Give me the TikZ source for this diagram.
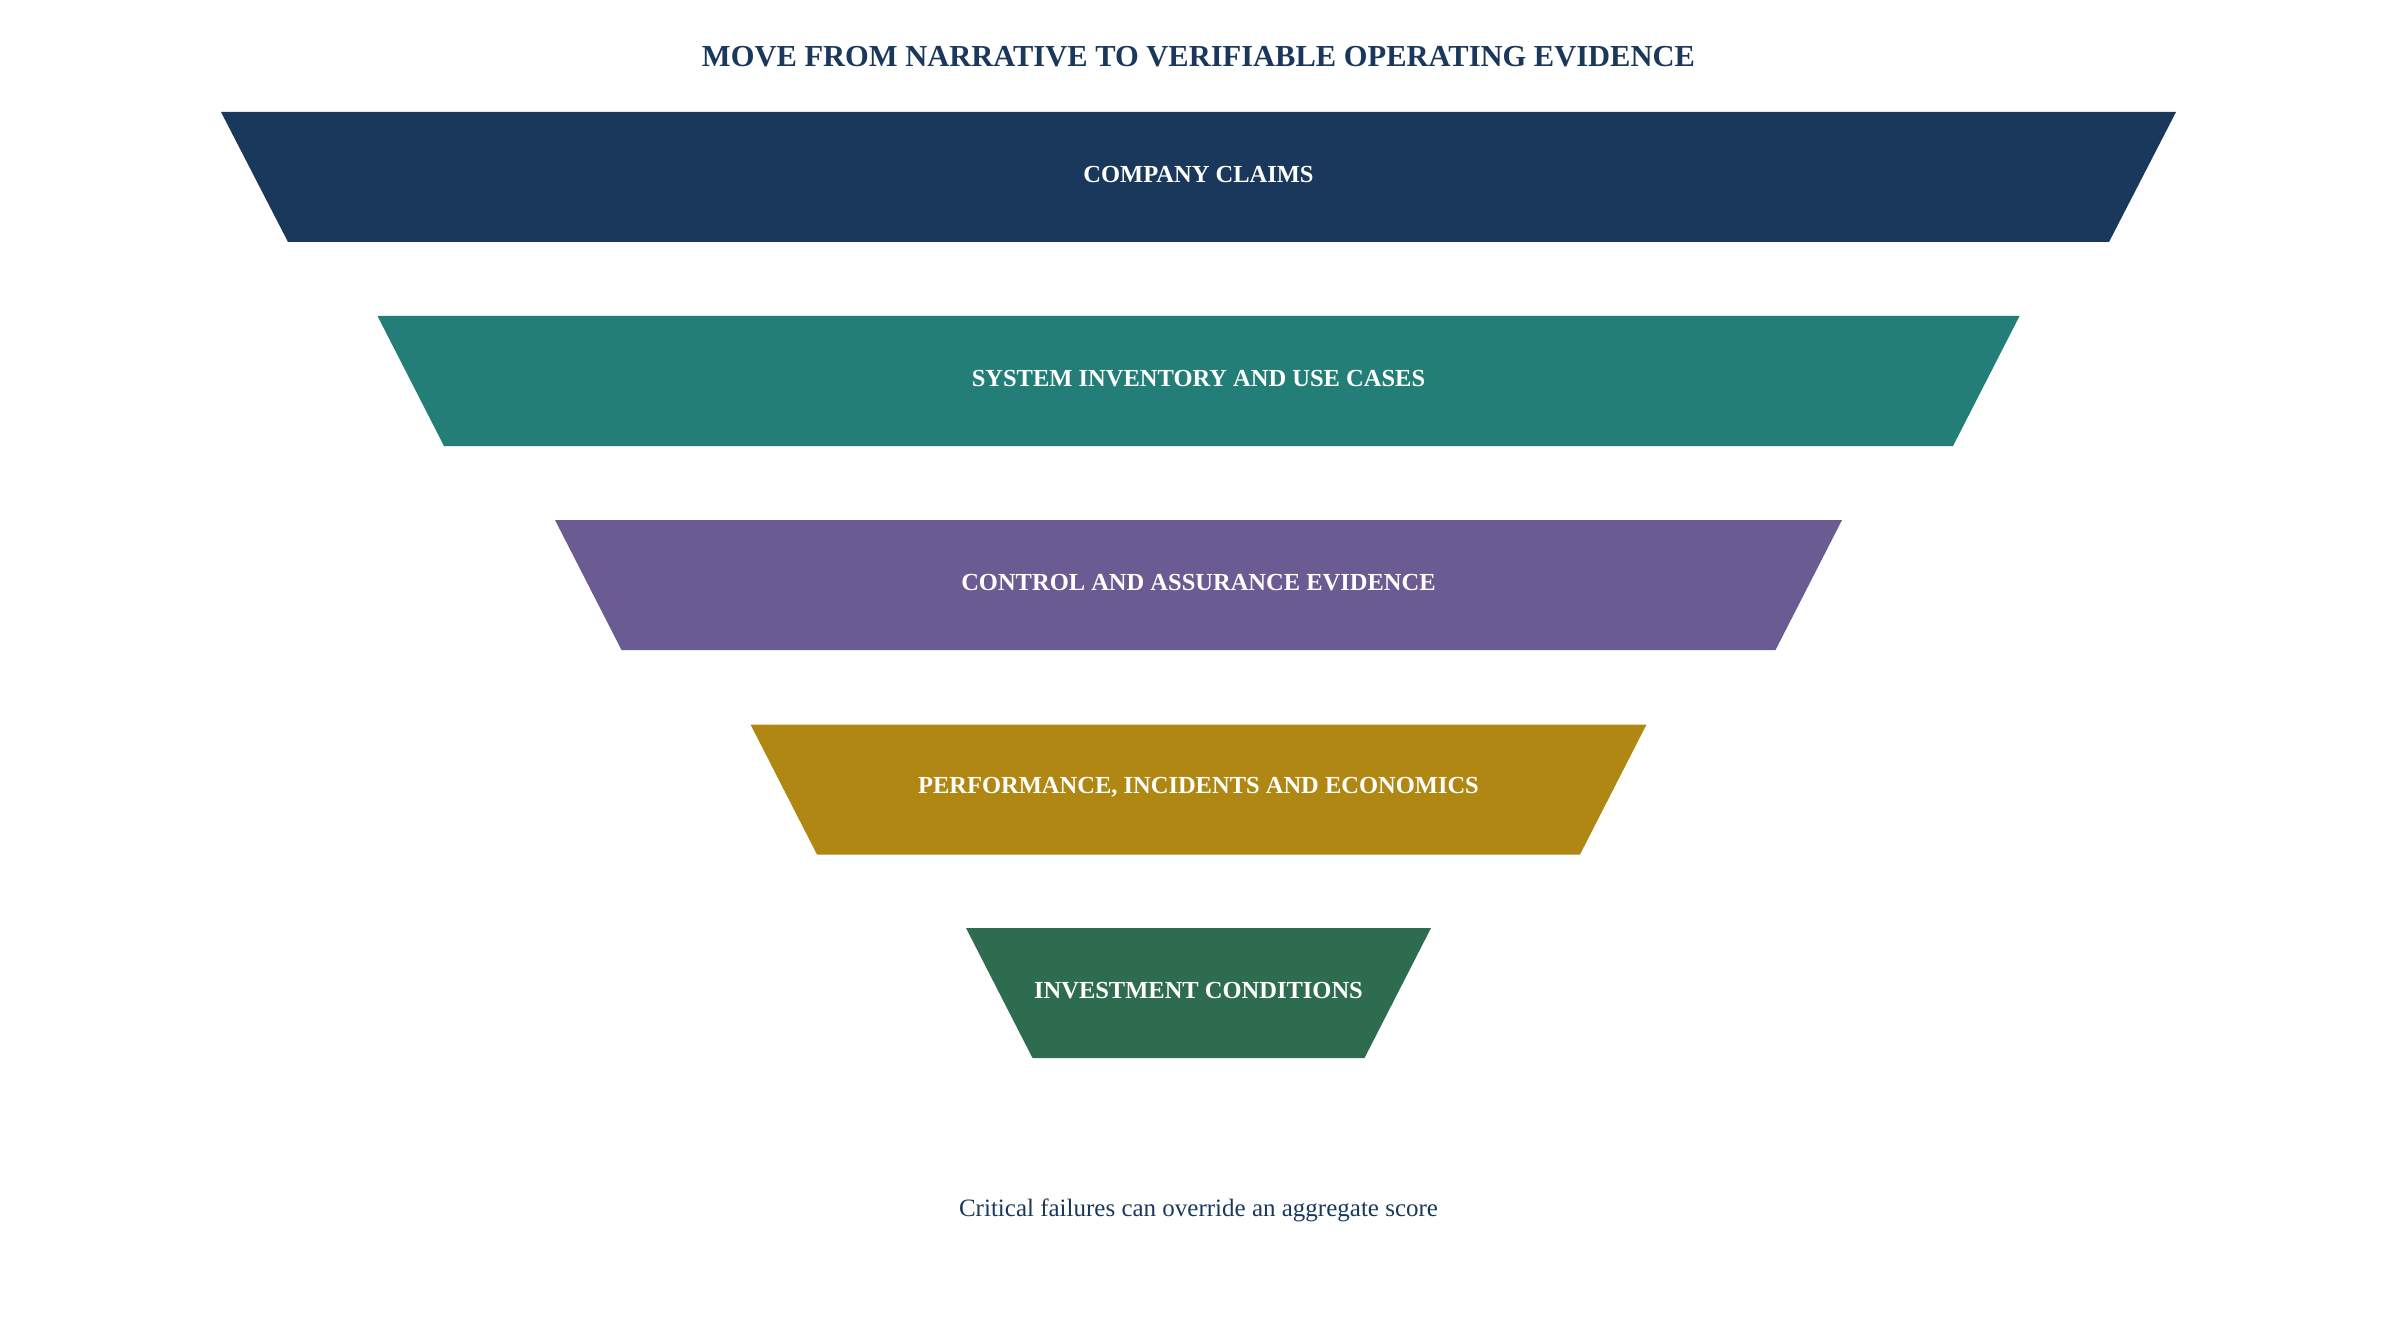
\documentclass[tikz,border=0pt]{standalone}
\usepackage{fontspec}
\setmainfont{Liberation Serif}
\usetikzlibrary{positioning}
\definecolor{navy}{HTML}{1A385B}
\definecolor{teal}{HTML}{237E78}
\definecolor{plum}{HTML}{6A5B92}
\definecolor{ochre}{HTML}{B08713}
\definecolor{pine}{HTML}{2D6C4F}
\tikzstyle{layer} = [text=white, font=\bfseries\fontsize{12.25}{14}\selectfont]
\tikzstyle{heading} = [text=navy, font=\bfseries\fontsize{15.25}{18}\selectfont]
\tikzstyle{note} = [text=navy, font=\fontsize{12.5}{15}\selectfont]

\begin{document}
\begin{tikzpicture}[x=0.5pt, y=-0.5pt]
\useasboundingbox (0,0) rectangle (2397,1342);

\node (title) [heading] at (1198.5,57) {MOVE FROM NARRATIVE TO VERIFIABLE OPERATING EVIDENCE};

% funnel layers
\fill[navy] (221,112) -- (2176,112) -- (2109,242) -- (288,242) -- cycle;
\node (claims) [layer] at (1198.5,175) {COMPANY CLAIMS};

\fill[teal] (377.5,316) -- (2019.5,316) -- (1953,446) -- (444,446) -- cycle;
\node (inventory) [layer] at (1198.5,379) {SYSTEM INVENTORY AND USE CASES};

\fill[plum] (555,520) -- (1842,520) -- (1775.5,650) -- (621.5,650) -- cycle;
\node (controls) [layer] at (1198.5,583) {CONTROL AND ASSURANCE EVIDENCE};

\fill[ochre] (750.5,724.5) -- (1646.5,724.5) -- (1580,854.5) -- (817,854.5) -- cycle;
\node (performance) [layer] at (1198.5,787.5) {PERFORMANCE, INCIDENTS AND ECONOMICS};

\fill[pine] (966,928) -- (1431,928) -- (1364.5,1058) -- (1032.5,1058) -- cycle;
\node (conditions) [layer] at (1198.5,991) {INVESTMENT CONDITIONS};

\node (footnote) [note] at (1198.5,1210) {Critical failures can override an aggregate score};
\end{tikzpicture}
\end{document}
